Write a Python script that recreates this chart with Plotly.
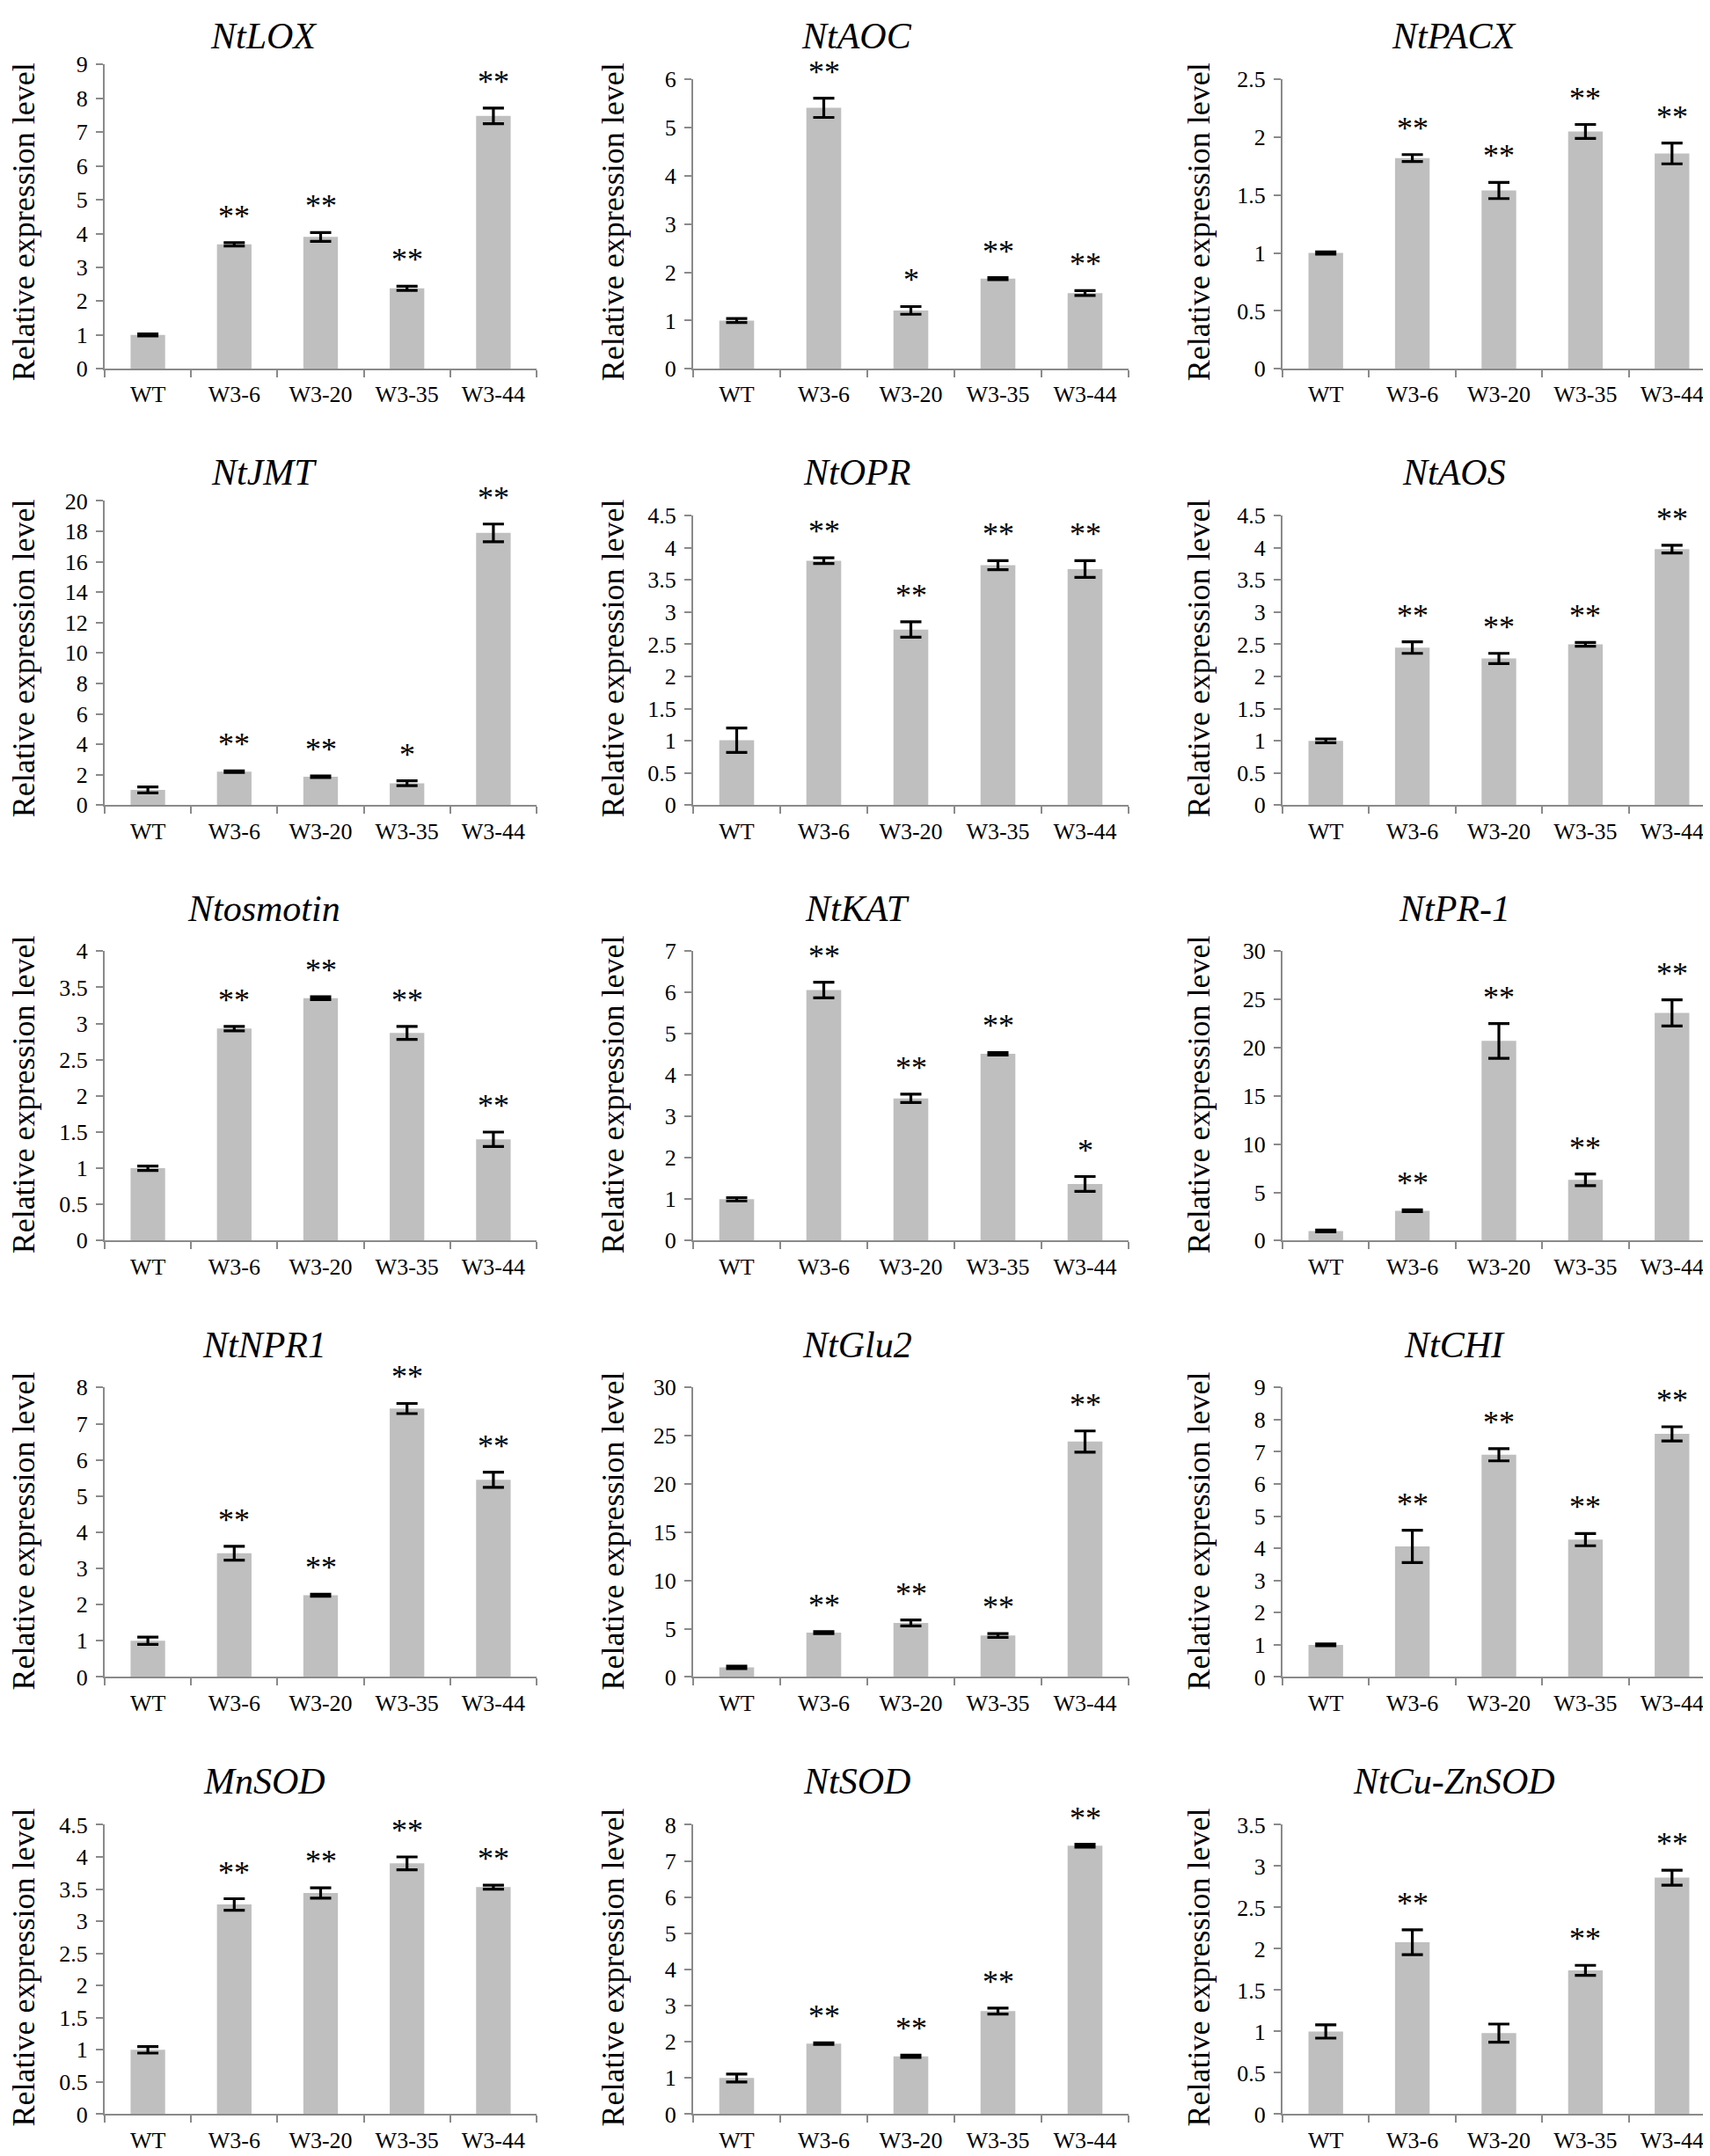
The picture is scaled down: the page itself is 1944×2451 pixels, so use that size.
import plotly.graph_objects as go

categories = ["WT", "W3-6", "W3-20", "W3-35", "W3-44"]

# ---- data (mean, error, significance) ----
lox_mean = [1.0, 3.68, 3.90, 2.38, 7.48]
lox_err = [0.03, 0.05, 0.13, 0.06, 0.23]
lox_sig = ["", "**", "**", "**", "**"]

aoc_mean = [1.0, 5.41, 1.21, 1.87, 1.57]
aoc_err = [0.04, 0.20, 0.08, 0.02, 0.05]
aoc_sig = ["", "**", "*", "**", "**"]

pacx_mean = [1.0, 1.82, 1.54, 2.05, 1.86]
pacx_err = [0.01, 0.03, 0.07, 0.06, 0.09]
pacx_sig = ["", "**", "**", "**", "**"]

jmt_mean = [1.0, 2.2, 1.87, 1.44, 17.9]
jmt_err = [0.2, 0.05, 0.05, 0.16, 0.58]
jmt_sig = ["", "**", "**", "*", "**"]

opr_mean = [1.01, 3.80, 2.73, 3.73, 3.67]
opr_err = [0.19, 0.045, 0.12, 0.07, 0.13]
opr_sig = ["", "**", "**", "**", "**"]

aos_mean = [1.0, 2.45, 2.28, 2.50, 3.98]
aos_err = [0.03, 0.09, 0.08, 0.03, 0.06]
aos_sig = ["", "**", "**", "**", "**"]

osm_mean = [1.0, 2.93, 3.35, 2.87, 1.40]
osm_err = [0.03, 0.03, 0.02, 0.09, 0.10]
osm_sig = ["", "**", "**", "**", "**"]

kat_mean = [1.0, 6.06, 3.44, 4.52, 1.37]
kat_err = [0.04, 0.19, 0.10, 0.03, 0.18]
kat_sig = ["", "**", "**", "**", "*"]

pr1_mean = [1.0, 3.1, 20.7, 6.3, 23.6]
pr1_err = [0.1, 0.1, 1.8, 0.6, 1.35]
pr1_sig = ["", "**", "**", "**", "**"]

npr1_mean = [1.0, 3.42, 2.26, 7.42, 5.45]
npr1_err = [0.1, 0.19, 0.03, 0.14, 0.21]
npr1_sig = ["", "**", "**", "**", "**"]

glu2_mean = [1.0, 4.6, 5.6, 4.3, 24.4]
glu2_err = [0.12, 0.1, 0.3, 0.2, 1.1]
glu2_sig = ["", "**", "**", "**", "**"]

chi_mean = [1.0, 4.06, 6.91, 4.27, 7.56]
chi_err = [0.03, 0.5, 0.19, 0.19, 0.22]
chi_sig = ["", "**", "**", "**", "**"]

mnsod_mean = [1.0, 3.26, 3.44, 3.90, 3.53]
mnsod_err = [0.05, 0.09, 0.08, 0.10, 0.03]
mnsod_sig = ["", "**", "**", "**", "**"]

sod_mean = [1.0, 1.95, 1.60, 2.85, 7.42]
sod_err = [0.11, 0.02, 0.03, 0.08, 0.04]
sod_sig = ["", "**", "**", "**", "**"]

cuzn_mean = [1.0, 2.08, 0.98, 1.74, 2.86]
cuzn_err = [0.08, 0.15, 0.11, 0.06, 0.09]
cuzn_sig = ["", "**", "", "**", "**"]

titles = ["NtLOX", "NtAOC", "NtPACX", "NtJMT", "NtOPR", "NtAOS",
          "Ntosmotin", "NtKAT", "NtPR-1", "NtNPR1", "NtGlu2", "NtCHI",
          "MnSOD", "NtSOD", "NtCu-ZnSOD"]
y_max = [9, 6, 2.5, 20, 4.5, 4.5, 4, 7, 30, 8, 30, 9, 4.5, 8, 3.5]
y_dtick = [1, 1, 0.5, 2, 0.5, 0.5, 0.5, 1, 5, 1, 5, 1, 0.5, 1, 0.5]
y_label = "Relative expression level"

means = [lox_mean, aoc_mean, pacx_mean, jmt_mean, opr_mean, aos_mean,
         osm_mean, kat_mean, pr1_mean, npr1_mean, glu2_mean, chi_mean,
         mnsod_mean, sod_mean, cuzn_mean]
errs = [lox_err, aoc_err, pacx_err, jmt_err, opr_err, aos_err,
        osm_err, kat_err, pr1_err, npr1_err, glu2_err, chi_err,
        mnsod_err, sod_err, cuzn_err]
sigs = [lox_sig, aoc_sig, pacx_sig, jmt_sig, opr_sig, aos_sig,
        osm_sig, kat_sig, pr1_sig, npr1_sig, glu2_sig, chi_sig,
        mnsod_sig, sod_sig, cuzn_sig]

# ---- layout geometry (pixels) ----
W, H = 1944, 2451
col_x = [(111, 602), (780, 1275), (1450, 1942)]
row_zero = [402, 904, 1405, 1907, 2410]
plot_h = [350, 333, 333, 350, 333, 333, 333, 333, 333, 333, 333, 333, 333, 333, 333]
title_x = [292, 966, 1645]
title_y0 = 19
ylab_x = [19, 689, 1355]
ylab_y0 = 233
row_pitch = 502

FONT = "Liberation Serif, Times New Roman, serif"
AX = "#8a8a8a"
BAR = "#bfbfbf"

fig = go.Figure()
annotations = []
layout = dict(
    width=W, height=H,
    margin=dict(l=0, r=0, t=0, b=0),
    paper_bgcolor="white", plot_bgcolor="white",
    showlegend=False,
    bargap=0.6,
    font=dict(family=FONT, color="black"),
)

for i in range(15):
    r, c = divmod(i, 3)
    n = i + 1
    xs = "x" if n == 1 else f"x{n}"
    ys = "y" if n == 1 else f"y{n}"
    x0, x1 = col_x[c]
    zero = row_zero[r]
    top = zero - plot_h[i]

    fig.add_trace(go.Bar(
        x=categories, y=means[i],
        error_y=dict(type="data", array=errs[i], visible=True,
                     color="black", thickness=3.2, width=12),
        marker=dict(color=BAR, line=dict(width=0)),
        width=0.4,
        xaxis=xs, yaxis=ys,
        hoverinfo="skip",
    ))

    layout[f"xaxis{'' if n == 1 else n}"] = dict(
        domain=[x0 / W, x1 / W], anchor=ys, type="category",
        range=[-0.5, 4.5],
        showline=True, linecolor=AX, linewidth=2,
        ticks="outside", tickson="boundaries", ticklen=8, tickwidth=2,
        tickcolor=AX, showgrid=False, zeroline=False,
        tickfont=dict(family=FONT, size=26, color="black"),
        ticklabelstandoff=5,
    )
    layout[f"yaxis{'' if n == 1 else n}"] = dict(
        domain=[1 - zero / H, 1 - top / H], anchor=xs,
        range=[0, y_max[i]], dtick=y_dtick[i], tick0=0,
        showline=True, linecolor=AX, linewidth=2,
        ticks="outside", ticklen=8, tickwidth=2, tickcolor=AX,
        showgrid=False, zeroline=False,
        tickfont=dict(family=FONT, size=26, color="black"),
        ticklabelstandoff=4,
    )

    # title
    annotations.append(dict(
        x=title_x[c] / W, y=1 - (title_y0 + row_pitch * r) / H,
        xref="paper", yref="paper", xanchor="center", yanchor="middle",
        text=f"<i>{titles[i]}</i>", showarrow=False,
        font=dict(family=FONT, size=42, color="black"),
    ))
    # y label
    annotations.append(dict(
        x=ylab_x[c] / W, y=1 - (ylab_y0 + row_pitch * r) / H,
        xref="paper", yref="paper", xanchor="center", yanchor="middle",
        text=y_label, textangle=-90, showarrow=False,
        font=dict(family=FONT, size=36, color="black"),
    ))
    # significance stars
    for k, cat in enumerate(categories):
        if sigs[i][k]:
            annotations.append(dict(
                x=cat, y=means[i][k] + errs[i][k],
                xref=xs, yref=ys, xanchor="center", yanchor="bottom",
                yshift=8, text=sigs[i][k], showarrow=False,
                font=dict(family=FONT, size=36, color="black"),
            ))

layout["annotations"] = annotations
fig.update_layout(**layout)
fig.write_html("out.html")
